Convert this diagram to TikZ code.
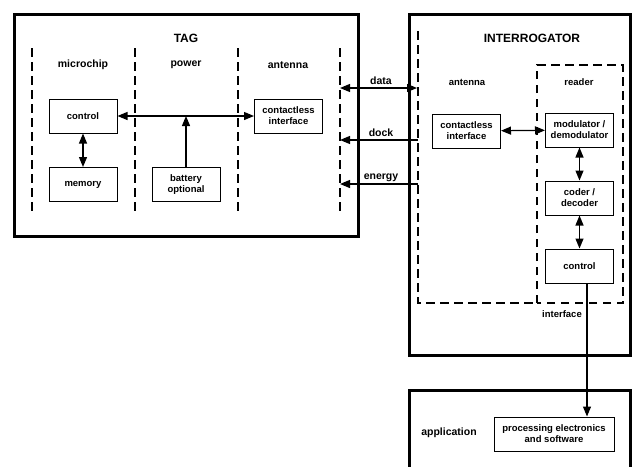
\documentclass[tikz,border=0pt]{standalone}
\usepackage{fontspec}
\setmainfont{Liberation Sans}
\usetikzlibrary{arrows.meta}
\begin{document}
\begin{tikzpicture}[x=1pt,y=-1pt,
  thickbox/.style={draw, line width=3pt},
  box/.style={draw, line width=1pt, minimum width=68pt, minimum height=34pt, inner sep=1pt, align=center, font=\bfseries\fontsize{9.5}{11}\selectfont},
  dashline/.style={dash pattern=on 8.5pt off 5.5pt, line width=1.2pt},
  arr/.style={line width=1.2pt, -{Triangle[length=10pt,width=8pt]}},
  darr/.style={line width=1.2pt, {Triangle[length=10pt,width=8pt]}-{Triangle[length=10pt,width=8pt]}},
  title/.style={font=\bfseries\fontsize{12}{14}\selectfont},
  lab/.style={font=\bfseries\fontsize{10.5}{12}\selectfont},
  slab/.style={font=\bfseries\fontsize{9.5}{11}\selectfont},
]
\useasboundingbox (0,0) rectangle (632,466);

% TAG
\draw[thickbox] (14,14) rectangle (358,236);
\foreach \x in {32,135,238,340} \draw[dashline] (\x,48) -- (\x,213);
\node[title] (tagt) at (186,38) {TAG};
\node[lab] (lmc) at (83,65) {microchip};
\node[lab] (lpw) at (186,65) {power};
\node[lab] (lan) at (288,65) {antenna};
\node[box] (tctrl) at (83,116) {control};
\node[box] (mem) at (83,184.5) {memory};
\node[box] (bat) at (186,184.5) {battery\\optional};
\node[box] (tci) at (288.5,116) {contactless\\interface};
\coordinate (bj) at (186,116);
\draw[darr] (tctrl) -- (tci);
\draw[arr] (bat.north) -- (bj);
\draw[darr] (tctrl) -- (mem);

% INTERROGATOR
\draw[thickbox] (409,14) rectangle (630,355);
\draw[dashline] (418,31) -- (418,303) -- (537,303);
\draw[dashline] (537,303) -- (537,65) -- (623,65) -- (623,303) -- (537,303);
\node[title] (intt) at (532,38) {INTERROGATOR};
\node[slab] (ian) at (467,82) {antenna};
\node[slab] (ird) at (579,82) {reader};
\node[box] (ici) at (466.5,131) {contactless\\interface};
\node[box] (mod) at (579.5,130) {modulator /\\demodulator};
\node[box] (cod) at (579.5,198) {coder /\\decoder};
\node[box] (ictrl) at (579.5,266) {control};
\draw[darr] (ici) -- (mod);
\draw[darr] (mod) -- (cod);
\draw[darr] (cod) -- (ictrl);
\node[slab] (iif) at (562,314) {interface};

% links
\coordinate (tdata) at (340,88);
\coordinate (idata) at (417,88);
\coordinate (tdock) at (340,140);
\coordinate (idock) at (418,140);
\coordinate (tener) at (340,184);
\coordinate (iener) at (418,184);
\draw[darr] (idata) -- (tdata);
\draw[arr] (idock) -- (tdock);
\draw[arr] (iener) -- (tener);
\node[lab] (ldata) at (381,81) {data};
\node[lab] (ldock) at (381,133) {dock};
\node[lab] (lener) at (381,178) {energy};

% application
\draw[thickbox] (409,390) rectangle (630,480);
\node[lab] (lapp) at (449,433) {application};
\node[box, minimum width=120pt] (proc) at (554,434) {processing electronics\\and software};
\draw[arr] ([xshift=7.5pt]ictrl.south) -- ([xshift=7.5pt]ictrl.south |- proc.north);
\end{tikzpicture}
\end{document}
